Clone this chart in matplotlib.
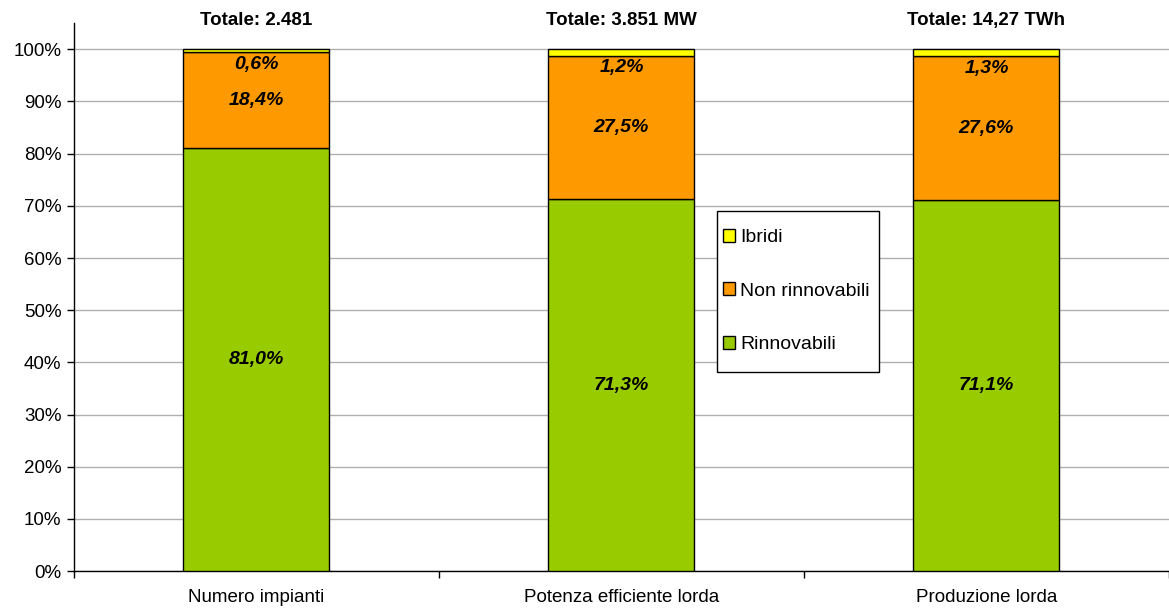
import matplotlib.pyplot as plt
import numpy as np
from matplotlib.patches import Rectangle

plt.rcParams['font.family'] = ['Liberation Sans', 'DejaVu Sans']

categories = ["Numero impianti", "Potenza efficiente lorda", "Produzione lorda"]
totals = ["Totale: 2.481", "Totale: 3.851 MW", "Totale: 14,27 TWh"]
rinnovabili = [81.0, 71.3, 71.1]
non_rinnovabili = [18.4, 27.5, 27.6]
ibridi = [0.6, 1.2, 1.3]

fig = plt.figure(figsize=(11.69, 6.10), dpi=100)
ax = fig.add_axes([0.0633, 0.0639, 0.9367, 0.898])

x = np.arange(len(categories))
w = 0.4
green, orange, yellow = '#99CC00', '#FF9900', '#FFFF00'

b1 = np.array(rinnovabili)
b2 = b1 + np.array(non_rinnovabili)
ax.bar(x, rinnovabili, w, color=green, edgecolor='black', linewidth=1, label='Rinnovabili', zorder=3)
ax.bar(x, non_rinnovabili, w, bottom=b1, color=orange, edgecolor='black', linewidth=1,
       label='Non rinnovabili', zorder=3)
ax.bar(x, ibridi, w, bottom=b2, color=yellow, edgecolor='black', linewidth=1, label='Ibridi', zorder=3)


def pct(v):
    return f"{v:.1f}%".replace('.', ',')


lab = dict(ha='center', va='center', fontsize=14, fontweight='bold', fontstyle='italic', zorder=4)
for i in range(len(categories)):
    ax.text(x[i], rinnovabili[i] / 2, pct(rinnovabili[i]), **lab)
    ax.text(x[i], b1[i] + non_rinnovabili[i] / 2, pct(non_rinnovabili[i]), **lab)
    ax.text(x[i], b2[i] - 2.3, pct(ibridi[i]), **lab)
    ax.text(x[i], 105.5, totals[i], ha='center', va='center', fontsize=13.5, fontweight='bold')

ax.set_xlim(-0.5, 2.5)
ax.set_ylim(0, 105)
ax.set_yticks(np.arange(0, 101, 10))
ax.set_yticklabels([f"{v}%" for v in range(0, 101, 10)], fontsize=13.5)
ax.yaxis.grid(True, color='#b0b0b0', linewidth=1, zorder=0)

ax.set_xticks(x)
ax.set_xticklabels(categories, fontsize=13.5)
ax.tick_params(axis='x', which='major', length=0, pad=13)
ax.set_xticks([-0.5, 0.5, 1.5, 2.5], minor=True)
ax.tick_params(axis='x', which='minor', length=5, width=1, direction='out')
ax.tick_params(axis='y', length=5, width=1, direction='out', pad=4)

for s in ['top', 'right']:
    ax.spines[s].set_visible(False)
ax.spines['left'].set_linewidth(1)
ax.spines['bottom'].set_linewidth(1)

# legend box drawn separately so the padding can be taller than it is wide
ax.add_patch(Rectangle((0.587, 0.363), 0.148, 0.294, transform=ax.transAxes,
                       facecolor='white', edgecolor='black', linewidth=1, zorder=5))
handles, labels = ax.get_legend_handles_labels()
leg = ax.legend(handles[::-1], labels[::-1], loc='center left', bbox_to_anchor=(0.589, 0.511),
                fontsize=14, frameon=False, handlelength=0.65, handleheight=0.65,
                handletextpad=0.25, labelspacing=1.85, borderpad=0.2, borderaxespad=0)
leg.set_zorder(6)

fig.savefig('out.png', dpi=100, facecolor='white')
